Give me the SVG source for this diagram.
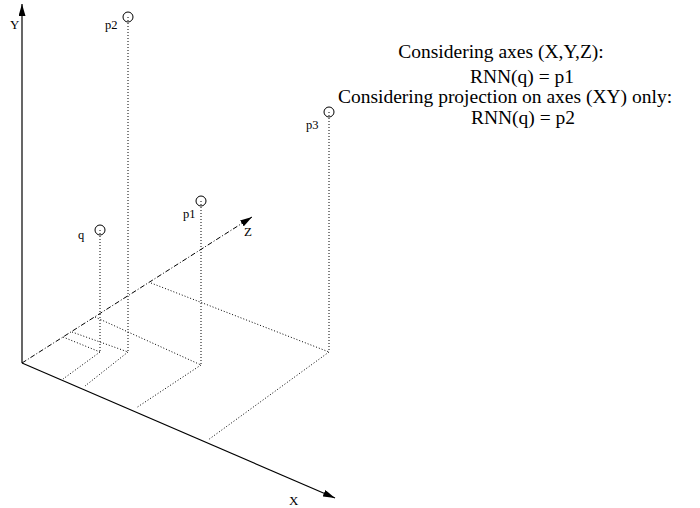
<svg xmlns="http://www.w3.org/2000/svg" width="700" height="508" viewBox="0 0 700 508">
<style>
text{font-family:"Liberation Serif","Times New Roman",serif;fill:#000}
.lbl{font-size:12.5px}
.ax{font-size:13px}
.big{font-size:19.5px;text-anchor:middle}
.axis{stroke:#000;stroke-width:1.2;fill:none}
.zaxis{stroke:#000;stroke-width:1;fill:none;stroke-dasharray:5 2 1 2}
.dot{stroke:#000;stroke-width:1;fill:none;stroke-dasharray:1 2}
.pt{stroke:#000;stroke-width:1;fill:none}
</style>
<defs>
<marker id="ah" markerWidth="12" markerHeight="7" refX="12" refY="3.5" orient="auto" markerUnits="userSpaceOnUse">
<path d="M0,0 L12,3.5 L0,7 Z" fill="#000"/>
</marker>
</defs>
<g id="connectors">
<line class="axis" x1="22" y1="363" x2="22" y2="4" marker-end="url(#ah)"/>
<line class="axis" x1="22" y1="363" x2="335" y2="498" marker-end="url(#ah)"/>
<line class="zaxis" x1="22" y1="363" x2="252" y2="217" marker-end="url(#ah)"/>
<line class="dot" x1="100" y1="230" x2="100" y2="352"/>
<line class="dot" x1="63" y1="337" x2="100" y2="352"/>
<line class="dot" x1="100" y1="352" x2="63" y2="379"/>
<line class="dot" x1="128" y1="17" x2="128" y2="352"/>
<line class="dot" x1="72" y1="332" x2="128" y2="352"/>
<line class="dot" x1="128" y1="352" x2="85" y2="386"/>
<line class="dot" x1="201" y1="201" x2="201" y2="365"/>
<line class="dot" x1="95" y1="317" x2="201" y2="365"/>
<line class="dot" x1="201" y1="365" x2="136" y2="408"/>
<line class="dot" x1="329" y1="112" x2="329" y2="352"/>
<line class="dot" x1="151" y1="283" x2="329" y2="352"/>
<line class="dot" x1="329" y1="352" x2="208" y2="440"/>
</g>
<g id="axis-labels">
<text class="ax" x="10" y="29">Y</text>
<text class="ax" x="289" y="505">X</text>
<text class="ax" x="244" y="236">Z</text>
</g>
<g id="q"><circle class="pt" cx="100" cy="230" r="5"/><text class="lbl" x="78" y="239">q</text></g>
<g id="p1"><circle class="pt" cx="201" cy="201" r="5"/><text class="lbl" x="183" y="218">p1</text></g>
<g id="p2"><circle class="pt" cx="128" cy="17" r="5"/><text class="lbl" x="105" y="29">p2</text></g>
<g id="p3"><circle class="pt" cx="329" cy="112" r="5"/><text class="lbl" x="306" y="129">p3</text></g>
<g id="legend">
<text class="big" x="501" y="58">Considering axes (X,Y,Z):</text>
<text class="big" x="522" y="83">RNN(q) = p1</text>
<text class="big" x="505" y="103">Considering projection on axes (XY) only:</text>
<text class="big" x="523" y="124">RNN(q) = p2</text>
</g>
</svg>
